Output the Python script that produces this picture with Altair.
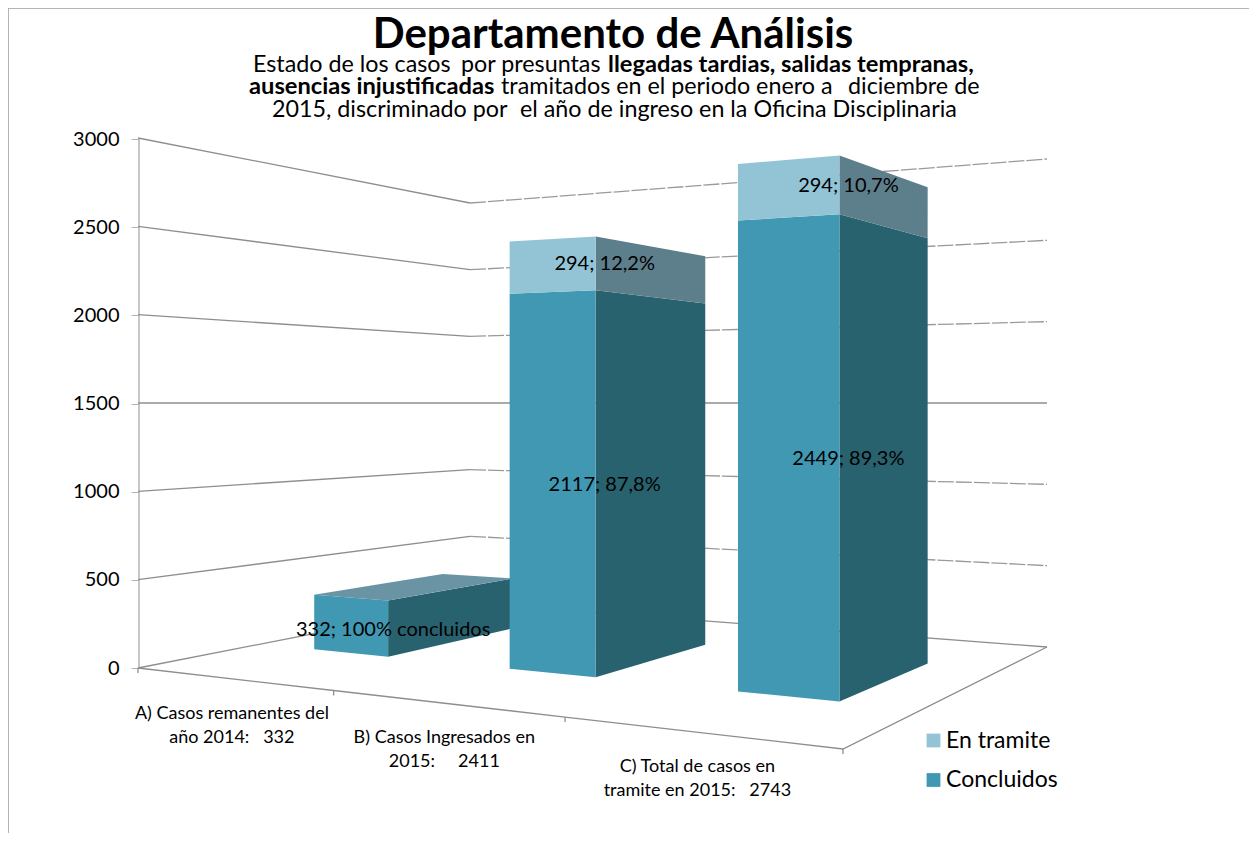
import altair as alt
import pandas as pd

# ---- values ----
categories = ["A) Casos remanentes del\naño 2014:\u00a0\u00a0\u00a0332",
              "B) Casos Ingresados en\n2015:\u00a0\u00a0\u00a0\u00a0\u00a02411",
              "C) Total de casos en\ntramite en 2015:\u00a0\u00a0\u00a02743"]
concluidos = [332, 2117, 2449]
en_tramite = [0, 294, 294]
labels_concluidos = ["332; 100% concluidos", "2117; 87,8%", "2449; 89,3%"]
labels_tramite = ["", "294; 12,2%", "294; 10,7%"]
axis_ticks = [0, 500, 1000, 1500, 2000, 2500, 3000]
series = ["En tramite", "Concluidos"]

# ---- colours ----
front_colors = ["#93C4D6", "#4198B3"]
side_tramite, side_concl, top_color = "#5D7E8B", "#28626F", "#6A93A3"
grid_color, axis_color = "#8E8E8E", "#B4B4B4"
FONT = "Lato"

# ---- layout ----
W, H = 1241, 825
AXIS_X, Y0, Y3000 = 139, 668, 139
EYE_Y, EYE_VALUE = 403, 1500
FLOOR = [(138, 668), (843, 749), (1047, 647), (470, 603)]
BAR_U_HALF, BAR_V = 0.066, (0.31, 0.715)
LABEL_DX = [5, 9, 9]


def to_value(py):
    return (Y0 - py) * 3000 / (Y0 - Y3000)


def _homography():
    (x0, y0), (x1, y1), (x2, y2), (x3, y3) = FLOOR
    dx1, dx2, sx = x1 - x2, x3 - x2, x0 - x1 + x2 - x3
    dy1, dy2, sy = y1 - y2, y3 - y2, y0 - y1 + y2 - y3
    den = dx1 * dy2 - dx2 * dy1
    g = (sx * dy2 - dx2 * sy) / den
    h = (dx1 * sy - sx * dy1) / den
    return (x1 - x0 + g * x1, x3 - x0 + h * x3, x0,
            y1 - y0 + g * y1, y3 - y0 + h * y3, y0, g, h)


HG = _homography()


def project(u, v, height=0.0):
    a, b, c, d, e, f, g, h = HG
    w = g * u + h * v + 1
    px = (a * u + b * v + c) / w
    floor_y = (d * u + e * v + f) / w
    return px, EYE_Y + (floor_y - EYE_Y) * (1 - height / EYE_VALUE)


# ---- walls and floor ----
solid_rows, dashed_rows = [], []


def add(rows, line_id, px, py):
    rows.append(dict(id=line_id, x=px, y=to_value(py), o=len(rows)))


for val in axis_ticks:
    for u, v in [(0, 0), (0, 1)]:
        px, py = project(u, v, val)
        add(solid_rows, f"g{val}", px, py)
    target = solid_rows if val in (0, EYE_VALUE) else dashed_rows
    for u, v in [(0, 1), (1, 1)]:
        px, py = project(u, v, val)
        add(target, f"r{val}", px, py)
for u, v in [(0, 0), (1 / 3, 0), (2 / 3, 0), (1, 0), (1, 1)]:
    px, py = project(u, v)
    add(solid_rows, "floor", px, py)
for u in [0, 1 / 3, 2 / 3, 1]:
    px, py = project(u, 0)
    add(solid_rows, f"t{u}", px, py)
    add(solid_rows, f"t{u}", px, py + 5)
walls = pd.DataFrame(solid_rows)
walls_dashed = pd.DataFrame(dashed_rows)

# ---- bar faces ----
front_rows, side_rows, text_rows = [], [], []
for i, cat in enumerate(categories):
    uc = (2 * i + 1) / 6
    ul, ur = uc - BAR_U_HALF, uc + BAR_U_HALF
    v0, v1 = BAR_V
    low = 0
    for name, amount, side, label in [
        ("Concluidos", concluidos[i], side_concl, labels_concluidos[i]),
        ("En tramite", en_tramite[i], side_tramite, labels_tramite[i]),
    ]:
        if amount == 0:
            continue
        high = low + amount
        fid = f"{i}-{name}"
        for (u, v) in [(ul, v0), (ur, v0)]:
            px, b = project(u, v, low)
            _, t = project(u, v, high)
            front_rows.append(dict(id=fid, serie=name, x=px,
                                   y=to_value(b), y2=to_value(t)))
        for (u, v) in [(ur, v0), (ur, v1)]:
            px, b = project(u, v, low)
            _, t = project(u, v, high)
            side_rows.append(dict(id=fid, fill=side, x=px,
                                  y=to_value(b), y2=to_value(t)))
        px, b = project(ur, v0, low)
        _, t = project(ur, v0, high)
        text_rows.append(dict(label=label, x=px + LABEL_DX[i],
                              y=to_value((b + t) / 2 + 1)))
        low = high
    # top face, visible only when the bar stays below eye level
    if low < EYE_VALUE:
        L = project(ul, v0, low)
        F = project(ur, v0, low)
        K = project(ul, v1, low)
        R = project(ur, v1, low)

        def edge(a, b, x):
            return a[1] + (b[1] - a[1]) * (x - a[0]) / (b[0] - a[0])

        for x in sorted([L[0], F[0], K[0], R[0]]):
            lower = edge(L, F, x) if x <= F[0] else edge(F, R, x)
            upper = edge(L, K, x) if x <= K[0] else edge(K, R, x)
            side_rows.append(dict(id=f"{i}-top", fill=top_color, x=x,
                                  y=to_value(lower), y2=to_value(upper)))

fronts = pd.DataFrame(front_rows)
sides = pd.DataFrame(side_rows)
value_labels = pd.DataFrame(text_rows)

cat_rows = []
for i, cat in enumerate(categories):
    px, py = project((2 * i + 1) / 6, 0)
    cat_rows.append(dict(label=cat.split("\n"), x=px, y=to_value(py + 26)))
cat_labels = pd.DataFrame(cat_rows)

# ---- title block ----
title_main = pd.DataFrame([dict(t="Departamento de Análisis", x=613, y=to_value(35))])
sub_regular = pd.DataFrame([
    dict(t="Estado de los casos", x=253, y=to_value(65)),
    dict(t="por presuntas", x=461, y=to_value(65)),
    dict(t="tramitados en el periodo enero a", x=501, y=to_value(87)),
    dict(t="diciembre de", x=848, y=to_value(87)),
    dict(t="2015, discriminado por", x=272, y=to_value(110)),
    dict(t="el año de ingreso en la Oficina Disciplinaria", x=520, y=to_value(110)),
])
sub_bold = pd.DataFrame([
    dict(t="llegadas tardias, salidas tempranas,", x=608, y=to_value(65)),
    dict(t="ausencias injustificadas", x=249, y=to_value(87)),
])

# ---- scales: the same axis definition on every layer so that it is kept ----
xs = alt.Scale(domain=[8, 8 + W], nice=False, zero=False)
ys = alt.Scale(domain=[to_value(8 + H), to_value(8)], nice=False, zero=False)
y_axis = alt.Axis(
    values=axis_ticks, title=None, domain=False, grid=False, offset=-(AXIS_X - 8),
    tickSize=8, tickColor=axis_color, labelFont=FONT, labelFontSize=20,
    labelColor="#000000", labelPadding=12, format="d")
X = alt.X("x:Q", scale=xs, axis=None)
Y = alt.Y("y:Q", scale=ys, axis=y_axis)

grid = alt.Chart(walls).mark_line(color=grid_color, strokeWidth=1.3).encode(
    x=X, y=Y, detail="id:N", order="o:Q")
grid_dashed = alt.Chart(walls_dashed).mark_line(
    color="#9A9A9A", strokeWidth=1.3, strokeDash=[16, 2]
).encode(x=X, y=Y, detail="id:N", order="o:Q")

axis_frame = pd.DataFrame({"x": [AXIS_X], "y": [0], "y2": [3000]})
axis_line = alt.Chart(axis_frame).mark_rule(color=axis_color, strokeWidth=1.5).encode(
    x=X, y=Y, y2="y2:Q")

frame = pd.DataFrame({"x": [8], "x2": [8 + W], "y": [to_value(8)], "y2": [to_value(8 + H)]})
border_left = alt.Chart(frame).mark_rule(color="#A6A6A6", strokeWidth=1.5).encode(
    x=X, y=Y, y2="y2:Q")
border_top = alt.Chart(frame).mark_rule(color="#A6A6A6", strokeWidth=1.5).encode(
    x=X, x2="x2:Q", y=Y)

side_layer = alt.Chart(sides).mark_area(orient="vertical", interpolate="linear").encode(
    x=X, y=Y, y2="y2:Q", detail="id:N",
    color=alt.Color("fill:N", scale=None))

front_layer = alt.Chart(fronts).mark_area(orient="vertical", interpolate="linear").encode(
    x=X, y=Y, y2="y2:Q", detail="id:N",
    color=alt.Color("serie:N", sort=series,
                    scale=alt.Scale(domain=series, range=front_colors),
                    legend=alt.Legend(
                        title=None, orient="none", legendX=914, legendY=721,
                        symbolType="square", symbolSize=190, symbolStrokeWidth=0,
                        labelFont=FONT, labelFontSize=23, labelColor="#000000",
                        rowPadding=15.5, labelOffset=1)))

value_text = alt.Chart(value_labels).mark_text(
    font=FONT, fontSize=20, color="#000000", align="center", baseline="middle"
).encode(x=X, y=Y, text="label:N")

cat_text = alt.Chart(cat_labels).mark_text(
    font=FONT, fontSize=18, color="#000000", align="center", baseline="top", lineHeight=24
).encode(x=X, y=Y, text="label")

main_text = alt.Chart(title_main).mark_text(
    font=FONT, fontSize=42, fontWeight="bold", color="#000000", align="center", baseline="middle"
).encode(x=X, y=Y, text="t:N")
reg_text = alt.Chart(sub_regular).mark_text(
    font=FONT, fontSize=23.3, color="#000000", align="left", baseline="middle"
).encode(x=X, y=Y, text="t:N")
bold_text = alt.Chart(sub_bold).mark_text(
    font=FONT, fontSize=23.7, fontWeight="bold", color="#000000", align="left", baseline="middle"
).encode(x=X, y=Y, text="t:N")

chart = alt.layer(
    axis_line, border_left, border_top, grid, grid_dashed, side_layer, front_layer,
    value_text, cat_text, main_text, reg_text, bold_text,
).properties(
    width=W, height=H, padding=0, autosize=alt.AutoSizeParams(type="none")
).configure_view(stroke=None).configure(background="#FFFFFF")

chart.save("out.html", embed_options={"renderer": "svg", "actions": False})
